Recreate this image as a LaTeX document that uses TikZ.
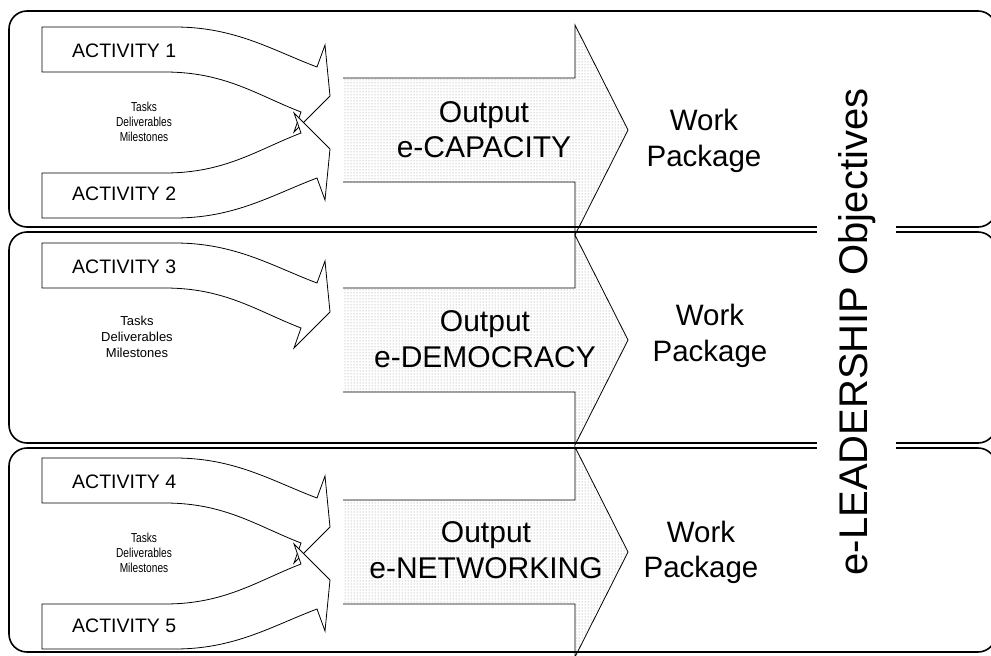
\documentclass[tikz,border=0pt]{standalone}
\usepackage{fontspec}
\setmainfont{Liberation Sans}
\newfontfamily\narrowsans[FakeStretch=0.78]{Liberation Sans}
\usetikzlibrary{patterns}

% outline of one curved activity arrow (upper position, panel frame)
\newcommand\actshape{%
  \filldraw[actline] (42,27) -- (175,27)
    .. controls (235,27) and (272,50) .. (317,67)
    -- (325,45) -- (330,96) -- (294,132) -- (301,112)
    .. controls (257,95) and (225,72) .. (165,72)
    -- (42,72) -- cycle;}

% the dotted output arrow, centred on y = 0
\newcommand\outshape{%
  \fill[outfill] (343,-52) -- (575,-52) -- (575,-105) -- (628,0)
    -- (575,105) -- (575,52) -- (343,52) -- cycle;
  \draw[outline] (343,-52) -- (575,-52) -- (575,-105) -- (628,0)
    -- (575,105) -- (575,52) -- (343,52);}

\begin{document}
\begin{tikzpicture}[x=1pt,y=-1pt,
  panel/.style={draw=black,line width=1.6pt,rounded corners=18pt},
  actline/.style={draw=black,fill=white,line width=0.8pt,line join=miter},
  outfill/.style={pattern=dots,pattern color=black!45},
  outline/.style={draw=black,line width=0.8pt},
  acttext/.style={anchor=base west,inner sep=0pt,font=\fontsize{19.5}{22}\selectfont},
  tasktext/.style={align=center,inner sep=0pt,font=\narrowsans\fontsize{13}{15}\selectfont},
  tasktextwide/.style={align=center,inner sep=0pt,font=\fontsize{13}{16}\selectfont},
  bigtext/.style={anchor=base,inner sep=0pt,font=\fontsize{30}{35}\selectfont},
  wptext/.style={anchor=base,inner sep=0pt,font=\fontsize{29.5}{35}\selectfont}]

\useasboundingbox (0,0) rectangle (991,656);
\clip (0,0) rectangle (991,656);

% output arrows
\begin{scope}[shift={(0,130)}]\outshape\end{scope}
\begin{scope}[shift={(0,340)}]\outshape\end{scope}
\begin{scope}[shift={(0,552)}]\outshape\end{scope}

% activity arrows
\actshape
\begin{scope}[shift={(0,245)},yscale=-1]\actshape\end{scope}
\begin{scope}[shift={(0,216)}]\actshape\end{scope}
\begin{scope}[shift={(0,431)}]\actshape\end{scope}
\begin{scope}[shift={(0,676)},yscale=-1]\actshape\end{scope}

% panels
\draw[panel] (9,11) rectangle (996,227);
\draw[panel] (9,232) rectangle (996,443);
\draw[panel] (9,448) rectangle (996,652);

% activity labels
\node[acttext] (a1) at (72,57) {ACTIVITY 1};
\node[acttext] (a2) at (72,200) {ACTIVITY 2};
\node[acttext] (a3) at (72,273) {ACTIVITY 3};
\node[acttext] (a4) at (72,488) {ACTIVITY 4};
\node[acttext] (a5) at (72,632) {ACTIVITY 5};

% tasks
\node[tasktext] (t1) at (144,122) {Tasks\\Deliverables\\Milestones};
\node[tasktextwide] (t2) at (137,337) {Tasks\\Deliverables\\Milestones};
\node[tasktext] (t3) at (144,553) {Tasks\\Deliverables\\Milestones};

% outputs
\node[bigtext] (o1a) at (484,122) {Output};
\node[bigtext] (o1b) at (484,157) {e-CAPACITY};
\node[bigtext] (o2a) at (485,331) {Output};
\node[bigtext] (o2b) at (485,367) {e-DEMOCRACY};
\node[bigtext] (o3a) at (486,542) {Output};
\node[bigtext] (o3b) at (486,578) {e-NETWORKING};

% work packages
\node[wptext] (w1a) at (704,130) {Work};
\node[wptext] (w1b) at (704,166) {Package};
\node[wptext] (w2a) at (710,325) {Work};
\node[wptext] (w2b) at (710,361) {Package};
\node[wptext] (w3a) at (701,542) {Work};
\node[wptext] (w3b) at (701,577) {Package};

% objectives label across the panels
\node[rotate=90,anchor=base,fill=white,inner xsep=0pt,inner ysep=21pt,
  font=\fontsize{40}{48}\selectfont] (obj) at (867,332) {e-LEADERSHIP Objectives};
\end{tikzpicture}
\end{document}
